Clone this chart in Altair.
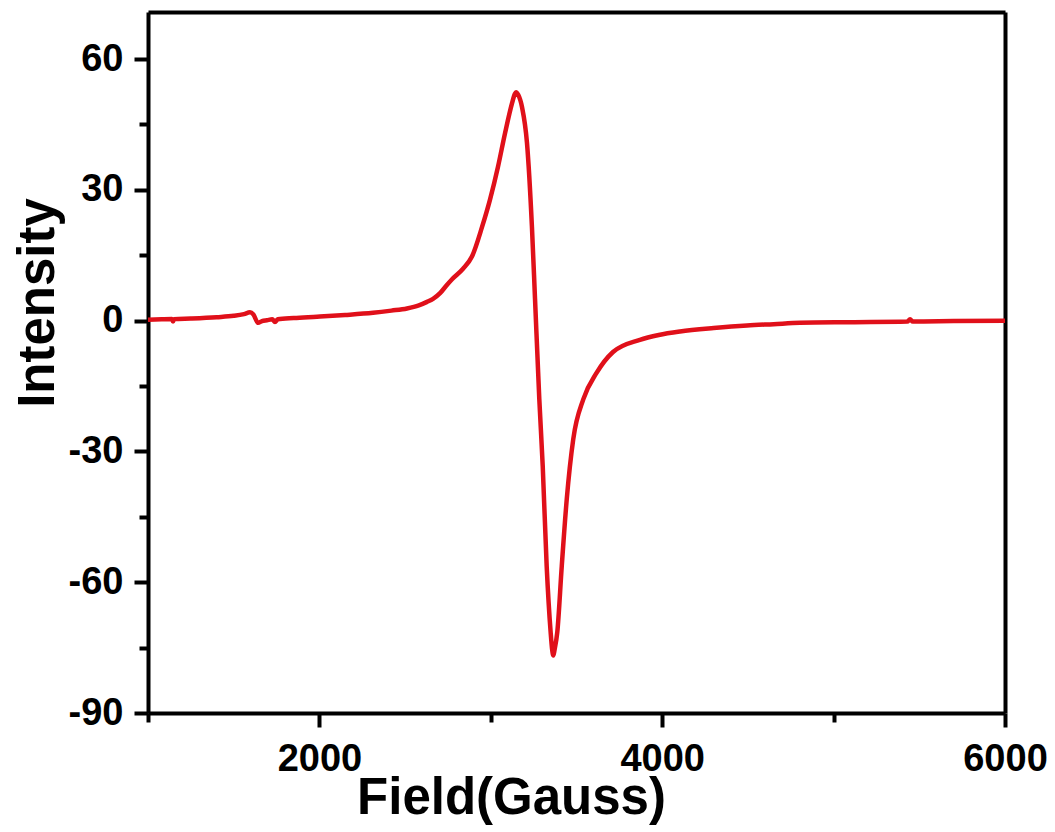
import altair as alt
import pandas as pd

field = [1000, 1080, 1140, 1146, 1152, 1250, 1400, 1500, 1560, 1595, 1615, 1642, 1665,
         1694, 1725, 1741, 1757, 1850, 1986, 2150, 2313, 2420, 2511, 2580, 2628, 2663,
         2704, 2740, 2774, 2838, 2890, 2949, 2995, 3042, 3083, 3124, 3140, 3147, 3160,
         3182, 3211, 3240, 3258, 3283, 3303, 3326, 3349, 3358, 3365, 3372, 3388, 3414,
         3443, 3481, 3540, 3617, 3713, 3870, 3980, 4104, 4300, 4495, 4650, 4804, 5100,
         5430, 5446, 5462, 5700, 6000]
intensity = [0.2, 0.3, 0.35, -0.2, 0.35, 0.5, 0.8, 1.1, 1.5, 1.9, 1.4, -0.5, -0.1,
             0.1, 0.3, -0.3, 0.3, 0.6, 0.9, 1.3, 1.8, 2.3, 2.8, 3.5, 4.3, 5.0,
             6.3, 8.0, 9.5, 11.9, 14.7, 21.5, 27.7, 35.3, 43.0, 49.9, 52.0, 52.4, 51.8,
             49.0, 40.8, 21.5, 5.0, -18.0, -33.4, -56.3, -71.4, -75.5, -76.8, -75.5, -71.4, -56.3,
             -41.0, -27.2, -18.0, -12.0, -7.2, -4.4, -3.3, -2.5, -1.7, -1.1, -0.8, -0.5, -0.35,
             -0.2, 0.3, -0.2, -0.1, 0.0]

x_major = [2000, 4000, 6000]
x_minor = [1000, 3000, 5000]
y_major = [-90, -60, -30, 0, 30, 60]
y_minor = [-75, -45, -15, 15, 45]

df = pd.DataFrame({"field": field, "intensity": intensity})

FONT = "Liberation Sans"
xs = alt.Scale(domain=[1000, 6000], nice=False, zero=False)
ys = alt.Scale(domain=[-90, 70.8], nice=False, zero=False)
LBL = "'' + datum.value"

major_x = alt.Axis(orient="bottom", values=x_major, labelExpr=LBL, tickSize=14, tickWidth=4,
                   tickColor="black", domainColor="black", domainWidth=4, grid=False,
                   labelFont=FONT, labelFontSize=38, labelFontWeight="bold", labelColor="black",
                   labelPadding=13, labelFlush=False,
                   title="Field(Gauss)", titleFont=FONT, titleFontSize=51, titleFontWeight="bold",
                   titleColor="black", titleX=363, titleY=100, titleAlign="center",
                   titleBaseline="alphabetic")
major_y = alt.Axis(orient="left", values=y_major, labelExpr=LBL, tickSize=14, tickWidth=4,
                   tickColor="black", domainColor="black", domainWidth=4, grid=False,
                   labelFont=FONT, labelFontSize=38, labelFontWeight="bold", labelColor="black",
                   labelPadding=11, labelFlush=False,
                   title="Intensity", titleFont=FONT, titleFontSize=51, titleFontWeight="bold",
                   titleColor="black", titleX=-95, titleY=290.5, titleAlign="center",
                   titleBaseline="alphabetic", titleAngle=270)
minor_x = alt.Axis(orient="bottom", values=x_minor, tickSize=9, tickWidth=4, tickColor="black",
                   labels=False, domain=False, grid=False, title=None)
minor_y = alt.Axis(orient="left", values=y_minor, tickSize=9, tickWidth=4, tickColor="black",
                   labels=False, domain=False, grid=False, title=None)
frame_x = alt.Axis(orient="top", ticks=False, labels=False, domainColor="black",
                   domainWidth=4, grid=False, title=None)
frame_y = alt.Axis(orient="right", ticks=False, labels=False, domainColor="black",
                   domainWidth=4, grid=False, title=None)

base = alt.Chart(df)
frame = base.mark_line(opacity=0).encode(
    x=alt.X("field:Q", scale=xs, axis=frame_x),
    y=alt.Y("intensity:Q", scale=ys, axis=frame_y),
)
minor = base.mark_line(opacity=0).encode(
    x=alt.X("field:Q", scale=xs, axis=minor_x),
    y=alt.Y("intensity:Q", scale=ys, axis=minor_y),
)
line = base.mark_line(color="#e0101a", strokeWidth=4.5, interpolate="monotone").encode(
    x=alt.X("field:Q", scale=xs, axis=major_x),
    y=alt.Y("intensity:Q", scale=ys, axis=major_y),
)

chart = alt.layer(frame, minor, line).resolve_axis(x="independent", y="independent").properties(
    width=857, height=701,
    autosize=alt.AutoSizeParams(type="none"),
    padding={"left": 140, "top": 4, "right": 42, "bottom": 115},
).configure_view(stroke=None).configure(background="white")

chart.save("out.html", embed_options={"renderer": "svg", "actions": False})
